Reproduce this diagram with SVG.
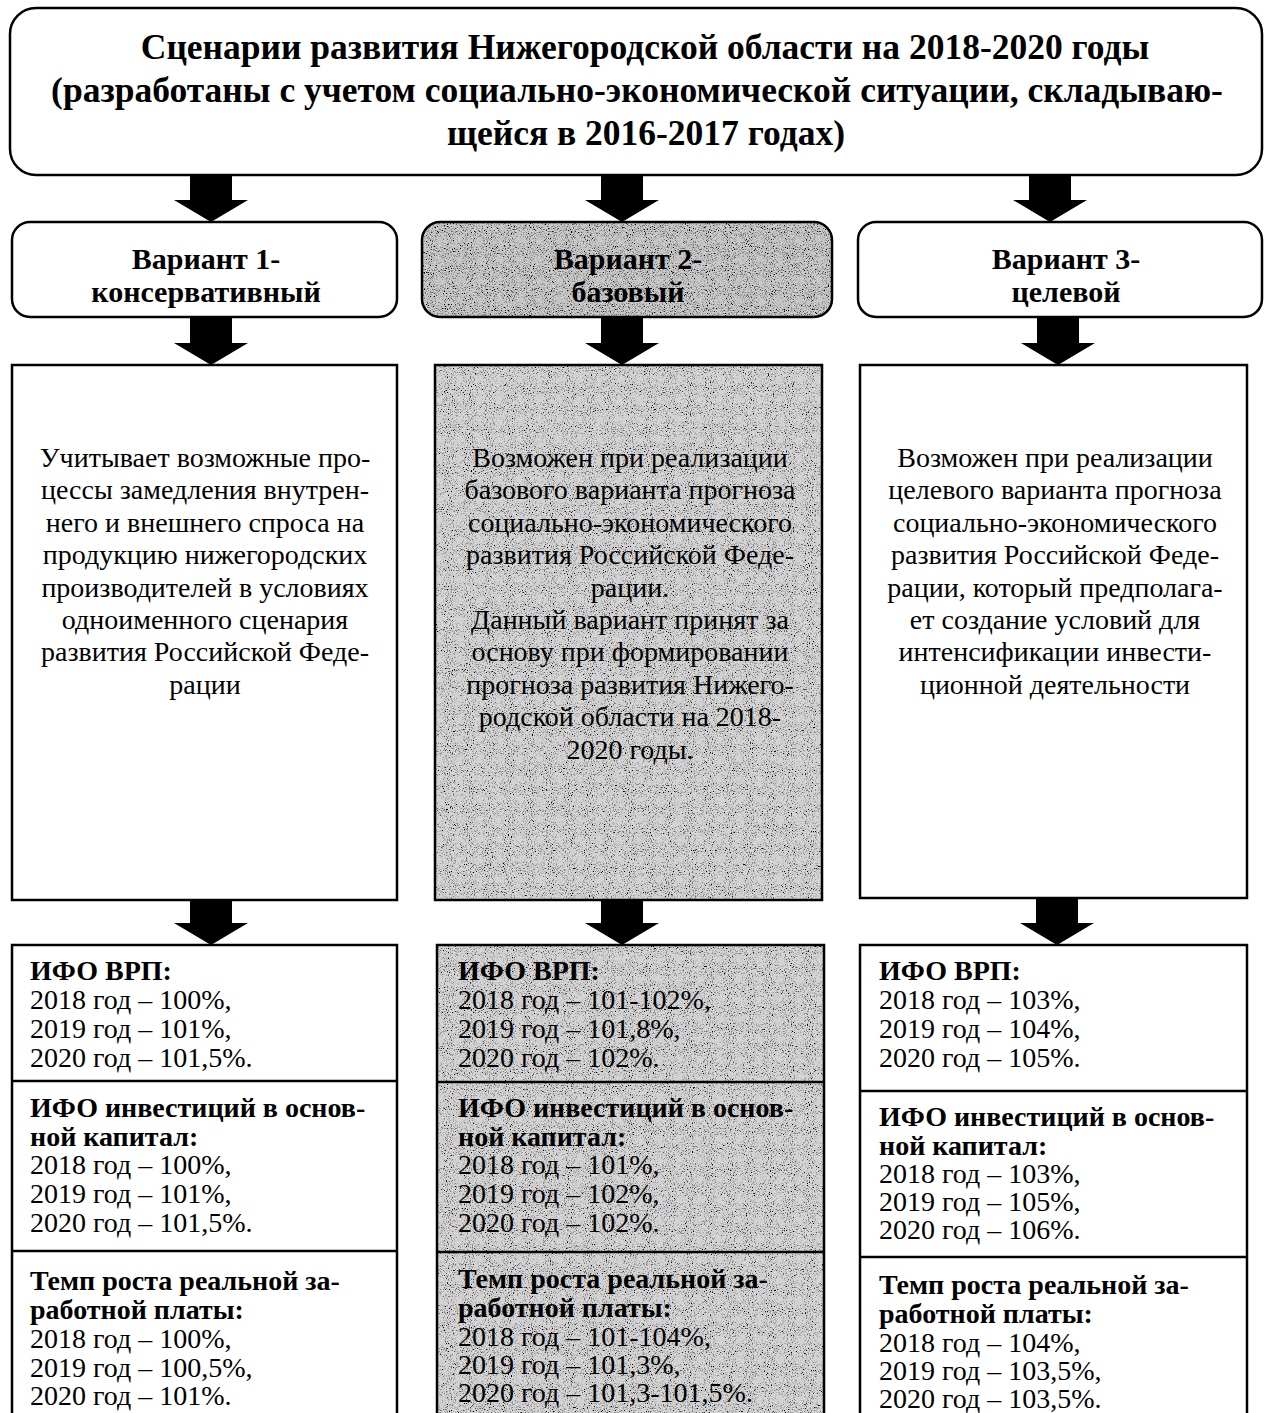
<svg xmlns="http://www.w3.org/2000/svg" width="1270" height="1413" viewBox="0 0 1270 1413">
<style>
.box{fill:#fff;stroke:#000;stroke-width:2.5}
.gbox{fill:#c8c8c8}
.frame{fill:none;stroke:#000;stroke-width:2.5}
.div{stroke:#000;stroke-width:2.5}
.t{font-family:"Liberation Serif","Times New Roman",serif;fill:#000}
.title{font-size:35.5px;font-weight:bold;text-anchor:middle}
.var{font-size:30px;font-weight:bold;text-anchor:middle}
.desc{font-size:28px;text-anchor:middle}
.h{font-size:28px;font-weight:bold}
.v{font-size:28px}
.arr{fill:#000}
</style>
<defs>
<filter id="noise" x="0" y="0" width="100%" height="100%">
<feTurbulence type="fractalNoise" baseFrequency="0.95" numOctaves="2" seed="3" result="n"/>
<feColorMatrix in="n" type="matrix" values="0 0 0 0 0  0 0 0 0 0  0 0 0 0 0  4 0 0 0 -2.1" result="dots"/>
<feFlood flood-color="#d4d4d4" result="bg"/>
<feComposite in="dots" in2="bg" operator="over" result="m"/>
<feComposite in="m" in2="SourceGraphic" operator="in"/>
</filter>
<filter id="noiseDark" x="0" y="0" width="100%" height="100%">
<feTurbulence type="fractalNoise" baseFrequency="0.95" numOctaves="2" seed="7" result="n"/>
<feColorMatrix in="n" type="matrix" values="0 0 0 0 0  0 0 0 0 0  0 0 0 0 0  4 0 0 0 -2.0" result="dots"/>
<feFlood flood-color="#cacaca" result="bg"/>
<feComposite in="dots" in2="bg" operator="over" result="m"/>
<feComposite in="m" in2="SourceGraphic" operator="in"/>
</filter>
</defs>

<g id="connectors">
<path class="arr" d="M190,175 H232 V200 H248 L211,222 L174,200 H190 Z"/>
<path class="arr" d="M601,175 H643 V200 H659 L622,222 L585,200 H601 Z"/>
<path class="arr" d="M1029,175 H1071 V200 H1087 L1050,222 L1013,200 H1029 Z"/>
<path class="arr" d="M190,317 H232 V343 H248 L211,365 L174,343 H190 Z"/>
<path class="arr" d="M601,317 H643 V343 H659 L622,365 L585,343 H601 Z"/>
<path class="arr" d="M1037,317 H1079 V343 H1095 L1058,365 L1021,343 H1037 Z"/>
<path class="arr" d="M190,900 H232 V923 H248 L211,945 L174,923 H190 Z"/>
<path class="arr" d="M601,900 H643 V923 H659 L622,945 L585,923 H601 Z"/>
<path class="arr" d="M1036,898 H1078 V923 H1094 L1057,945 L1020,923 H1036 Z"/>
</g>

<g id="title">
<rect class="box" x="10" y="8" width="1252" height="167" rx="26"/>
<text class="t title" x="645" y="59">Сценарии развития Нижегородской области на 2018-2020 годы</text>
<text class="t title" x="637" y="102">(разработаны с учетом социально-экономической ситуации, складываю-</text>
<text class="t title" x="646" y="145">щейся в 2016-2017 годах)</text>
</g>

<g id="variant1">
<rect class="box" x="12" y="222" width="385" height="95" rx="18"/>
<text class="t var" x="206" y="269">Вариант 1-</text>
<text class="t var" x="206" y="302">консервативный</text>
</g>
<g id="variant2">
<rect class="gbox" x="422" y="222" width="410" height="95" rx="18" filter="url(#noiseDark)"/>
<rect class="frame" x="422" y="222" width="410" height="95" rx="18"/>
<text class="t var" x="628" y="269">Вариант 2-</text>
<text class="t var" x="628" y="302">базовый</text>
</g>
<g id="variant3">
<rect class="box" x="858" y="222" width="404" height="95" rx="18"/>
<text class="t var" x="1066" y="269">Вариант 3-</text>
<text class="t var" x="1066" y="302">целевой</text>
</g>

<g id="desc1">
<rect class="box" x="12" y="365" width="385" height="535"/>
<text class="t desc" x="205" y="467">Учитывает возможные про-</text>
<text class="t desc" x="205" y="499">цессы замедления внутрен-</text>
<text class="t desc" x="205" y="532">него и внешнего спроса на</text>
<text class="t desc" x="205" y="564">продукцию нижегородских</text>
<text class="t desc" x="205" y="597">производителей в условиях</text>
<text class="t desc" x="205" y="629">одноименного сценария</text>
<text class="t desc" x="205" y="661">развития Российской Феде-</text>
<text class="t desc" x="205" y="694">рации</text>
</g>
<g id="desc2">
<rect class="gbox" x="435" y="365" width="387" height="535" filter="url(#noise)"/>
<rect class="frame" x="435" y="365" width="387" height="535"/>
<text class="t desc" x="630" y="467">Возможен при реализации</text>
<text class="t desc" x="630" y="499">базового варианта прогноза</text>
<text class="t desc" x="630" y="532">социально-экономического</text>
<text class="t desc" x="630" y="564">развития Российской Феде-</text>
<text class="t desc" x="630" y="597">рации.</text>
<text class="t desc" x="630" y="629">Данный вариант принят за</text>
<text class="t desc" x="630" y="661">основу при формировании</text>
<text class="t desc" x="630" y="694">прогноза развития Нижего-</text>
<text class="t desc" x="630" y="726">родской области на 2018-</text>
<text class="t desc" x="630" y="759">2020 годы.</text>
</g>
<g id="desc3">
<rect class="box" x="860" y="365" width="387" height="533"/>
<text class="t desc" x="1055" y="467">Возможен при реализации</text>
<text class="t desc" x="1055" y="499">целевого варианта прогноза</text>
<text class="t desc" x="1055" y="532">социально-экономического</text>
<text class="t desc" x="1055" y="564">развития Российской Феде-</text>
<text class="t desc" x="1055" y="597">рации, который предполага-</text>
<text class="t desc" x="1055" y="629">ет создание условий для</text>
<text class="t desc" x="1055" y="661">интенсификации инвести-</text>
<text class="t desc" x="1055" y="694">ционной деятельности</text>
</g>

<g id="indicators1">
<rect class="box" x="12" y="945" width="385" height="480"/>
<line class="div" x1="12" y1="1081" x2="397" y2="1081"/>
<line class="div" x1="12" y1="1251" x2="397" y2="1251"/>
<text class="t h" x="30" y="980">ИФО ВРП:</text>
<text class="t v" x="30" y="1009">2018 год – 100%,</text>
<text class="t v" x="30" y="1038">2019 год – 101%,</text>
<text class="t v" x="30" y="1067">2020 год – 101,5%.</text>
<text class="t h" x="30" y="1117">ИФО инвестиций в основ-</text>
<text class="t h" x="30" y="1146">ной капитал:</text>
<text class="t v" x="30" y="1174">2018 год – 100%,</text>
<text class="t v" x="30" y="1203">2019 год – 101%,</text>
<text class="t v" x="30" y="1232">2020 год – 101,5%.</text>
<text class="t h" x="30" y="1290">Темп роста реальной за-</text>
<text class="t h" x="30" y="1319">работной платы:</text>
<text class="t v" x="30" y="1348">2018 год – 100%,</text>
<text class="t v" x="30" y="1377">2019 год – 100,5%,</text>
<text class="t v" x="30" y="1405">2020 год – 101%.</text>
</g>
<g id="indicators2">
<rect class="gbox" x="437" y="945" width="387" height="480" filter="url(#noise)"/>
<rect class="frame" x="437" y="945" width="387" height="480"/>
<line class="div" x1="437" y1="1082" x2="824" y2="1082"/>
<line class="div" x1="437" y1="1252" x2="824" y2="1252"/>
<text class="t h" x="458" y="980">ИФО ВРП:</text>
<text class="t v" x="458" y="1009">2018 год – 101-102%,</text>
<text class="t v" x="458" y="1038">2019 год – 101,8%,</text>
<text class="t v" x="458" y="1067">2020 год – 102%.</text>
<text class="t h" x="458" y="1117">ИФО инвестиций в основ-</text>
<text class="t h" x="458" y="1146">ной капитал:</text>
<text class="t v" x="458" y="1174">2018 год – 101%,</text>
<text class="t v" x="458" y="1203">2019 год – 102%,</text>
<text class="t v" x="458" y="1232">2020 год – 102%.</text>
<text class="t h" x="458" y="1288">Темп роста реальной за-</text>
<text class="t h" x="458" y="1317">работной платы:</text>
<text class="t v" x="458" y="1346">2018 год – 101-104%,</text>
<text class="t v" x="458" y="1374">2019 год – 101,3%,</text>
<text class="t v" x="458" y="1402">2020 год – 101,3-101,5%.</text>
</g>
<g id="indicators3">
<rect class="box" x="860" y="945" width="387" height="480"/>
<line class="div" x1="860" y1="1091" x2="1247" y2="1091"/>
<line class="div" x1="860" y1="1257" x2="1247" y2="1257"/>
<text class="t h" x="879" y="980">ИФО ВРП:</text>
<text class="t v" x="879" y="1009">2018 год – 103%,</text>
<text class="t v" x="879" y="1038">2019 год – 104%,</text>
<text class="t v" x="879" y="1067">2020 год – 105%.</text>
<text class="t h" x="879" y="1126">ИФО инвестиций в основ-</text>
<text class="t h" x="879" y="1155">ной капитал:</text>
<text class="t v" x="879" y="1183">2018 год – 103%,</text>
<text class="t v" x="879" y="1211">2019 год – 105%,</text>
<text class="t v" x="879" y="1239">2020 год – 106%.</text>
<text class="t h" x="879" y="1294">Темп роста реальной за-</text>
<text class="t h" x="879" y="1323">работной платы:</text>
<text class="t v" x="879" y="1352">2018 год – 104%,</text>
<text class="t v" x="879" y="1380">2019 год – 103,5%,</text>
<text class="t v" x="879" y="1408">2020 год – 103,5%.</text>
</g>
</svg>
